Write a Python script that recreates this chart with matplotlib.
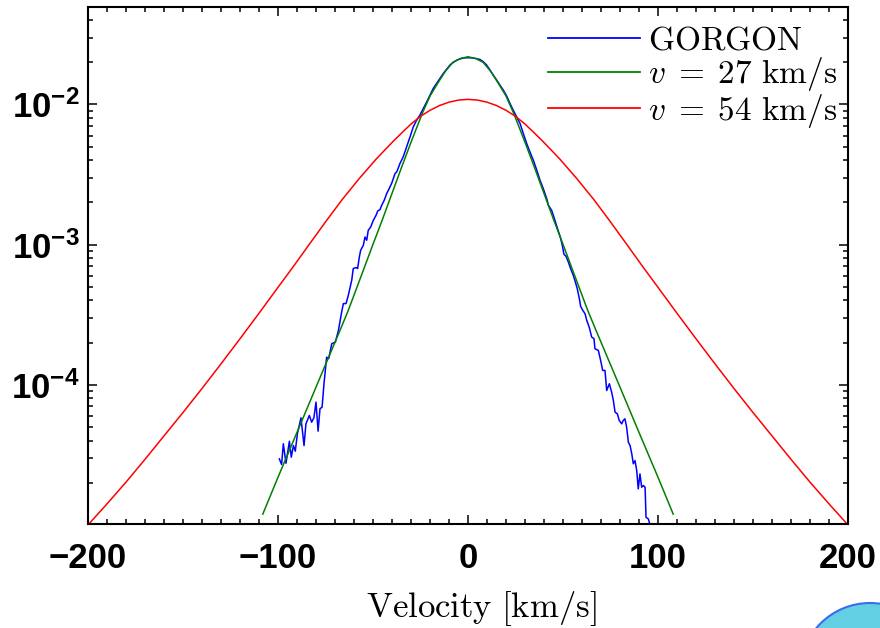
import numpy as np
import matplotlib
matplotlib.use("Agg")
import matplotlib.pyplot as plt
from matplotlib.ticker import FixedLocator, MultipleLocator, NullFormatter, LogLocator
from matplotlib.patches import Circle

plt.rcParams['mathtext.fontset'] = 'custom'
plt.rcParams['mathtext.bf'] = 'Liberation Sans:bold'
plt.rcParams['mathtext.rm'] = 'Liberation Sans:bold'
plt.rcParams['font.family'] = ['Liberation Sans', 'DejaVu Sans']

# ---- data (densities stored as log10) ----
gorgon_v = [-99.3, -98.1, -97.2, -95.8, -94.0, -93.0, -91.9, -90.9, -89.8, -87.9,
            -86.3, -85.3, -83.5, -82.3, -81.1, -80.0, -78.9, -77.9, -76.8, -75.8,
            -74.4, -73.3, -71.7, -69.8, -68.2, -66.5, -65.6, -64.2, -63.0, -61.2,
            -60.4, -58.9, -58.1, -57.2, -56.5, -55.1, -54.2, -53.3, -52.5, -51.2,
            -49.8, -48.4, -47.5, -46.3, -45.4, -44.1, -42.8, -41.9, -40.2, -38.4,
            -37.5, -35.8, -34.1, -32.3, -30.5, -28.8, -27.0, -25.3, -23.5, -21.7,
            -20.0, -18.3, -16.5, -14.7, -13.0, -11.2, -9.5, -7.7, -5.9, -4.2,
            -2.5, -0.7, 1.1, 2.8, 4.6, 6.3, 8.1, 9.8, 11.6, 13.3,
            15.1, 16.8, 18.6, 20.4, 22.1, 23.8, 25.6, 27.4, 29.1, 30.9,
            32.6, 34.4, 36.2, 37.9, 39.6, 41.4, 42.3, 44.0, 44.9, 46.3,
            47.5, 48.8, 49.8, 50.5, 51.6, 52.8, 54.0, 55.4, 56.5, 57.5,
            58.6, 59.3, 60.4, 61.6, 62.5, 63.8, 65.1, 66.3, 66.8, 68.6,
            69.8, 70.9, 72.1, 73.0, 74.4, 75.6, 76.5, 77.4, 78.6, 79.6,
            80.9, 81.7, 82.6, 83.5, 84.4, 85.3, 86.2, 87.0, 87.9, 88.8,
            89.6, 90.5, 91.4, 92.3, 93.2, 93.7, 94.9, 95.8]
gorgon_log10 = [-4.529, -4.569, -4.421, -4.560, -4.403, -4.517, -4.434, -4.474, -4.350, -4.236,
                -4.434, -4.279, -4.219, -4.267, -4.236, -4.124, -4.331, -4.171, -4.160, -3.993,
                -3.803, -3.814, -3.707, -3.696, -3.612, -3.481, -3.421, -3.421, -3.362, -3.255,
                -3.171, -3.164, -3.171, -3.089, -3.041, -3.005, -2.946, -2.969, -2.898, -2.874,
                -2.826, -2.791, -2.760, -2.750, -2.719, -2.684, -2.636, -2.612, -2.564, -2.493,
                -2.481, -2.421, -2.374, -2.303, -2.231, -2.160, -2.112, -2.076, -2.029, -1.981,
                -1.934, -1.886, -1.850, -1.814, -1.779, -1.748, -1.719, -1.700, -1.684, -1.676,
                -1.669, -1.667, -1.667, -1.669, -1.674, -1.679, -1.696, -1.719, -1.755, -1.791,
                -1.826, -1.862, -1.898, -1.941, -1.993, -2.041, -2.089, -2.136, -2.207, -2.279,
                -2.339, -2.398, -2.469, -2.541, -2.600, -2.671, -2.719, -2.755, -2.791, -2.850,
                -2.898, -2.957, -3.017, -3.069, -3.084, -3.124, -3.171, -3.219, -3.267, -3.314,
                -3.386, -3.441, -3.469, -3.493, -3.541, -3.589, -3.660, -3.671, -3.743, -3.755,
                -3.826, -3.898, -3.898, -4.041, -3.993, -4.053, -4.112, -4.196, -4.207, -4.255,
                -4.279, -4.255, -4.243, -4.303, -4.410, -4.434, -4.493, -4.564, -4.541, -4.612,
                -4.743, -4.636, -4.731, -4.719, -4.731, -4.946, -4.957, -4.998]

fit27_v = [-108, -100, -90, -80, -67, -63, -55, -50, -45, -40, -35, -30, -24, -20, -16, -12, -8, -4, 0,
           4, 8, 12, 16, 20, 24, 30, 35, 40, 45, 50, 55, 63, 67, 80, 90, 100, 108]
fit27_log10 = [-4.923, -4.660, -4.340, -4.017, -3.600, -3.469, -3.180, -2.998, -2.820, -2.635, -2.450,
               -2.270, -2.062, -1.940, -1.850, -1.765, -1.700, -1.672, -1.660,
               -1.672, -1.700, -1.765, -1.850, -1.940, -2.062, -2.270, -2.450, -2.635, -2.820,
               -2.998, -3.180, -3.469, -3.600, -4.017, -4.340, -4.660, -4.923]

fit54_v = [-200, -190, -180, -170, -160, -150, -140, -130, -120, -110, -100, -92, -83, -74, -66,
           -57, -48, -39, -35, -30, -25, -20, -15, -10, -5, 0,
           5, 10, 15, 20, 25, 30, 35, 39, 48, 57, 66, 74, 83, 92, 100,
           110, 120, 130, 140, 150, 160, 170, 180, 190, 200]
fit54_log10 = [-5.000, -4.850, -4.695, -4.532, -4.365, -4.198, -4.027, -3.851, -3.672, -3.490,
               -3.305, -3.158, -2.988, -2.820, -2.675, -2.525, -2.385, -2.258, -2.205, -2.140,
               -2.085, -2.042, -2.008, -1.984, -1.969, -1.964,
               -1.969, -1.984, -2.008, -2.042, -2.085, -2.140, -2.205, -2.258, -2.385, -2.525,
               -2.675, -2.820, -2.988, -3.158, -3.305,
               -3.490, -3.672, -3.851, -4.027, -4.198, -4.365, -4.532, -4.695, -4.850, -5.000]

series_labels = [r'$\mathrm{GORGON}$', r'$v\;=\;27\ \mathrm{km/s}$', r'$v\;=\;54\ \mathrm{km/s}$']
x_ticks = [-200, -100, 0, 100, 200]
y_ticks = [1e-4, 1e-3, 1e-2]
y_ticklabels = [r'$\mathbf{10^{-4}}$', r'$\mathbf{10^{-3}}$', r'$\mathbf{10^{-2}}$']

# ---- figure ----
W, H = 880, 628
fig = plt.figure(figsize=(W / 100, H / 100), dpi=100)
ax = fig.add_axes([88 / W, 1 - 524.3 / H, (848 - 88) / W, (524.3 - 6.7) / H])

ax.plot(gorgon_v, 10 ** np.array(gorgon_log10), color='#0000ff', lw=1.1, label=series_labels[0])
ax.plot(fit27_v, 10 ** np.array(fit27_log10), color='#008000', lw=1.1, label=series_labels[1])
ax.plot(fit54_v, 10 ** np.array(fit54_log10), color='#ff0000', lw=1.1, label=series_labels[2])

ax.set_yscale('log')
ax.set_xlim(-200, 200)
ax.set_ylim(1.01e-5, 4.98e-2)

ax.xaxis.set_major_locator(FixedLocator(x_ticks))
ax.xaxis.set_minor_locator(MultipleLocator(10))
ax.set_xticklabels([f'{t:d}'.replace('-', '\u2212') for t in x_ticks])
ax.yaxis.set_major_locator(FixedLocator(y_ticks))
ax.yaxis.set_minor_locator(LogLocator(base=10, subs=np.arange(2, 10)))
ax.yaxis.set_minor_formatter(NullFormatter())
ax.set_yticklabels(y_ticklabels)

ax.tick_params(which='both', direction='in', top=True, right=True, width=1.1, color='black')
ax.tick_params(which='major', length=6.5)
ax.tick_params(which='minor', length=3.4)
ax.tick_params(axis='x', labelsize=25, pad=13)
ax.tick_params(axis='y', labelsize=25, pad=6)
for lab in ax.get_xticklabels():
    lab.set_fontweight('bold')
for sp in ax.spines.values():
    sp.set_linewidth(1.5)

xl = ax.set_xlabel(r'$\mathrm{Velocity\ [km/s]}$', fontsize=25)
xl.set_math_fontfamily('cm')
ax.xaxis.set_label_coords((481 - 88) / 760, -0.125)

leg = ax.legend(loc='upper right', bbox_to_anchor=(0.986, 0.963), frameon=False,
                fontsize=24, handlelength=2.75, handletextpad=0.25, labelspacing=-0.05,
                borderpad=0, borderaxespad=0)
for t in leg.get_texts():
    t.set_math_fontfamily('cm')
for ln in leg.get_lines():
    ln.set_linewidth(1.3)

# decorative circle in the lower-right corner of the reference image
circ = Circle((8.70, (H - 673) / 100), 0.70, transform=fig.dpi_scale_trans,
              facecolor='#63cfe3', edgecolor='#3a6cf0', lw=1.5, clip_on=False)
fig.add_artist(circ)

fig.savefig('out.png', dpi=100)
